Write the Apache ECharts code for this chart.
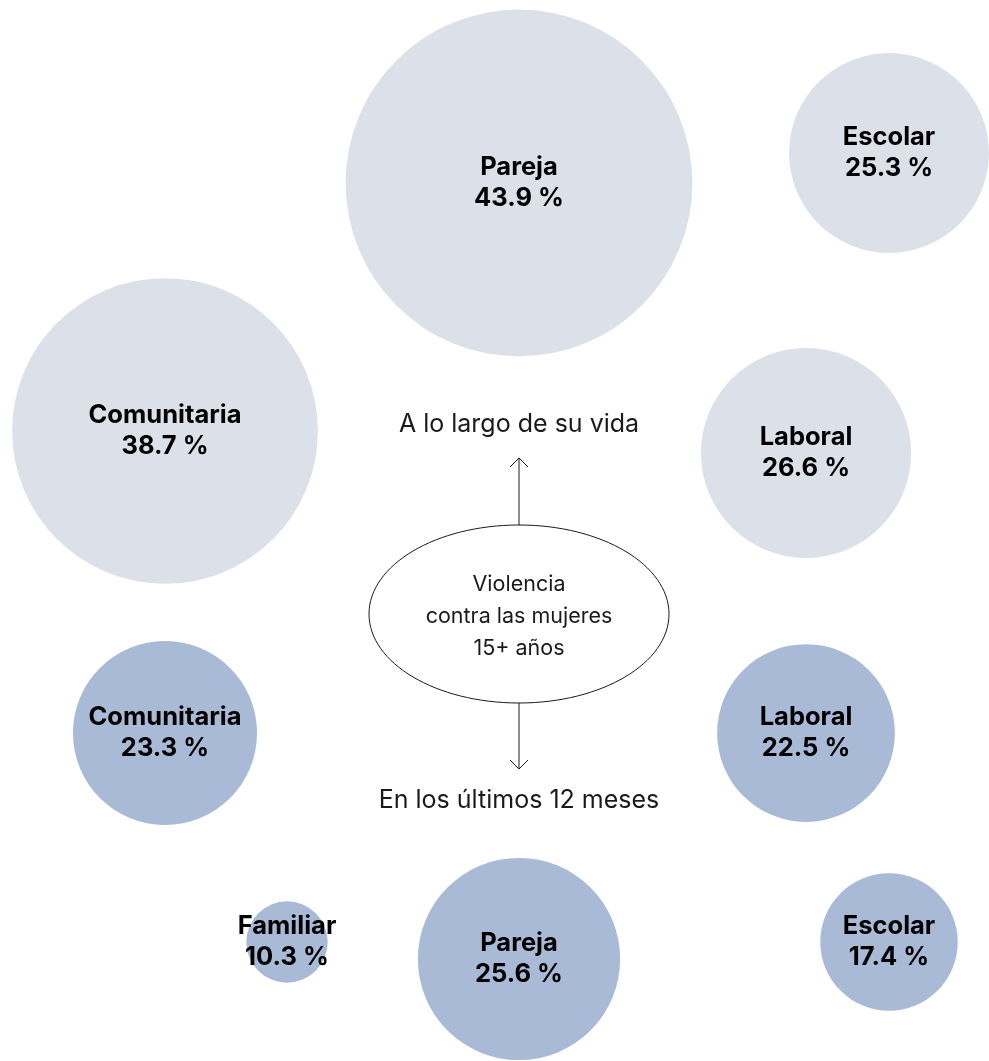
<!DOCTYPE html>
<html>
<head>
<meta charset="utf-8">
<title>Violencia contra las mujeres 15+ años</title>
<script src="https://cdn.jsdelivr.net/npm/echarts@6/dist/echarts.min.js"></script>
<style>
  html, body { margin: 0; padding: 0; background: #ffffff; }
  #chart { width: 989px; height: 1061px; }
</style>
</head>
<body>
<div id="chart"></div>
<script>
// Prevalencia a lo largo de la vida (%)
const categoriasVida = ['Pareja', 'Escolar', 'Comunitaria', 'Laboral'];
const valoresVida = [43.9, 25.3, 38.7, 26.6];

// Prevalencia en los últimos 12 meses (%)
const categorias12 = ['Comunitaria', 'Laboral', 'Familiar', 'Pareja', 'Escolar'];
const valores12 = [23.3, 22.5, 10.3, 25.6, 17.4];

// Placement of each bubble on the hidden plane (x, y)
const ubicacionVida = [[519, 183], [889, 153], [165, 431], [806, 453]];
const ubicacion12 = [[165, 733], [806, 733], [287, 942], [519, 959], [889, 942]];

// Bubble diameter per percentage point
const PX_POR_PUNTO = 7.9;

function puntos(cats, vals, pos) {
  return cats.map((c, i) => ({ name: c, value: [pos[i][0], pos[i][1], vals[i]] }));
}

const FONT = 'Inter, "Noto Sans", sans-serif';

const etiqueta = {
  show: true,
  position: 'inside',
  formatter: p => p.name + '\n' + p.value[2].toFixed(1) + ' %',
  fontFamily: FONT,
  fontSize: 25.5,
  fontWeight: 'bold',
  lineHeight: 31,
  color: '#000000',
  align: 'center'
};

const chart = echarts.init(document.getElementById('chart'), null, { renderer: 'canvas' });

const CX = 519;

chart.setOption({
  animation: false,
  backgroundColor: '#ffffff',
  grid: { left: 0, right: 0, top: 0, bottom: 0 },
  xAxis: { type: 'value', min: 0, max: 989, show: false },
  yAxis: { type: 'value', min: 0, max: 1061, inverse: true, show: false },
  series: [
    {
      name: 'A lo largo de su vida',
      type: 'scatter',
      data: puntos(categoriasVida, valoresVida, ubicacionVida),
      symbol: 'circle',
      symbolSize: v => v[2] * PX_POR_PUNTO,
      itemStyle: { color: '#dce0e9', opacity: 1 },
      label: etiqueta,
      emphasis: { disabled: true },
      silent: true
    },
    {
      name: 'En los últimos 12 meses',
      type: 'scatter',
      data: puntos(categorias12, valores12, ubicacion12),
      symbol: 'circle',
      symbolSize: v => v[2] * PX_POR_PUNTO,
      itemStyle: { color: '#a8bad6', opacity: 1 },
      label: etiqueta,
      emphasis: { disabled: true },
      silent: true
    }
  ],
  graphic: [
    {
      type: 'ellipse',
      shape: { cx: CX, cy: 614, rx: 150, ry: 89 },
      style: { fill: '#ffffff', stroke: '#1a1a1a', lineWidth: 1 },
      silent: true
    },
    {
      type: 'text',
      x: CX, y: 617,
      style: {
        text: 'Violencia\ncontra las mujeres\n15+ años',
        font: '400 21.5px ' + FONT,
        fill: '#1a1a1a',
        align: 'center',
        verticalAlign: 'middle',
        lineHeight: 32
      },
      silent: true
    },
    // Arrow up toward lifetime prevalence
    {
      type: 'line',
      shape: { x1: CX, y1: 525, x2: CX, y2: 458 },
      style: { stroke: '#1a1a1a', lineWidth: 1 },
      silent: true
    },
    {
      type: 'polyline',
      shape: { points: [[CX - 9, 467], [CX, 458], [CX + 9, 467]] },
      style: { stroke: '#1a1a1a', lineWidth: 1, fill: null },
      silent: true
    },
    // Arrow down toward last 12 months
    {
      type: 'line',
      shape: { x1: CX, y1: 703, x2: CX, y2: 769 },
      style: { stroke: '#1a1a1a', lineWidth: 1 },
      silent: true
    },
    {
      type: 'polyline',
      shape: { points: [[CX - 9, 760], [CX, 769], [CX + 9, 760]] },
      style: { stroke: '#1a1a1a', lineWidth: 1, fill: null },
      silent: true
    },
    {
      type: 'text',
      x: CX, y: 424,
      style: {
        text: 'A lo largo de su vida',
        font: '400 25px ' + FONT,
        fill: '#1a1a1a',
        align: 'center',
        verticalAlign: 'middle'
      },
      silent: true
    },
    {
      type: 'text',
      x: CX, y: 800,
      style: {
        text: 'En los últimos 12 meses',
        font: '400 25px ' + FONT,
        fill: '#1a1a1a',
        align: 'center',
        verticalAlign: 'middle'
      },
      silent: true
    }
  ]
});
</script>
</body>
</html>
